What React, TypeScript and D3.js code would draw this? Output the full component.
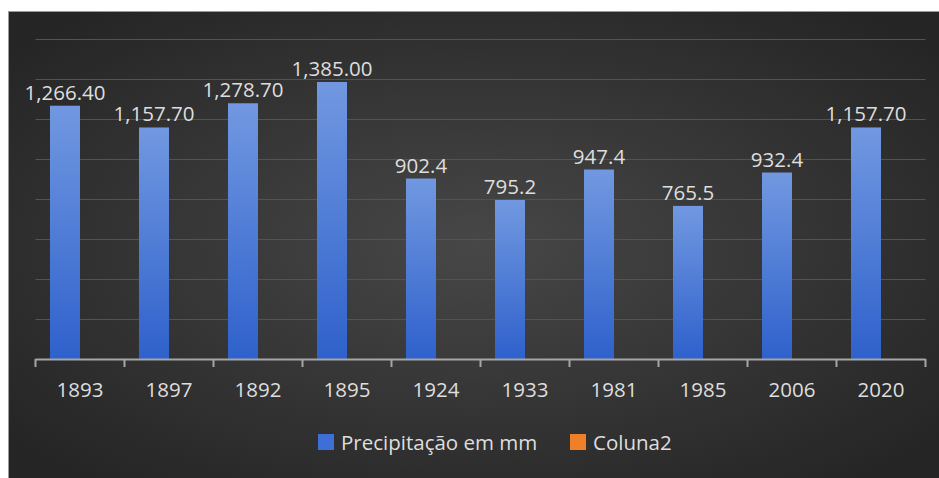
import React from "react";
import * as d3 from "d3";

const categories = ["1893", "1897", "1892", "1895", "1924", "1933", "1981", "1985", "2006", "2020"];
const values = [1266.4, 1157.7, 1278.7, 1385.0, 902.4, 795.2, 947.4, 765.5, 932.4, 1157.7];
const valueLabels = ["1,266.40", "1,157.70", "1,278.70", "1,385.00", "902.4", "795.2", "947.4", "765.5", "932.4", "1,157.70"];
const seriesNames = ["Precipitação em mm", "Coluna2"];
const seriesColors = ["#3d6fd6", "#f07f2a"];
const gridTicks = [0, 200, 400, 600, 800, 1000, 1200, 1400, 1600];

const W = 939;
const H = 478;
const FONT = "'Open Sans', 'Noto Sans', sans-serif";
const TEXT = "#dedede";

export default function App() {
  const x0 = 35.5, x1 = 925.5;
  const yBase = 359, yTop = 39;
  const x = d3.scaleBand<string>().domain(categories).range([x0, x1]).paddingInner(0).paddingOuter(0);
  const inner = d3.scaleBand<string>().domain(seriesNames).range([0, x.bandwidth()]).paddingInner(0).paddingOuter(0.483);
  const y = d3.scaleLinear().domain([0, 1600]).range([yBase, yTop]);

  const bw = inner.bandwidth();
  const ticksX = [...categories.map((c) => x(c)!), x1];

  return (
    <svg width={W} height={H} style={{ position: "absolute", left: 0, top: 0 }}>
      <defs>
        <radialGradient id="bg" cx="50%" cy="50%" r="65%">
          <stop offset="0%" stopColor="#474747" />
          <stop offset="100%" stopColor="#252525" />
        </radialGradient>
        <linearGradient id="bar" x1="0" y1="0" x2="0" y2="1">
          <stop offset="0%" stopColor="#7198e0" />
          <stop offset="100%" stopColor="#2f61cc" />
        </linearGradient>
      </defs>
      <rect x={0} y={0} width={W} height={H} fill="#ffffff" />
      <rect x={8.5} y={11.5} width={W - 8} height={H - 11} fill="url(#bg)" stroke="#9a9a9a" strokeWidth={1} />
      {gridTicks.slice(1).map((t) => (
        <line key={t} x1={x0} x2={x1} y1={Math.round(y(t)) + 0.5} y2={Math.round(y(t)) + 0.5} stroke="#535353" strokeWidth={1.2} />
      ))}
      {categories.map((c, i) => (
        <rect key={c} x={x(c)! + inner(seriesNames[0])!} y={y(values[i])} width={bw} height={yBase - y(values[i])} fill="url(#bar)" />
      ))}
      <line x1={x0} x2={x1} y1={yBase + 0.5} y2={yBase + 0.5} stroke="#a6a6a6" strokeWidth={2} />
      {ticksX.map((tx, i) => (
        <line key={i} x1={tx} x2={tx} y1={yBase} y2={yBase + 8} stroke="#a6a6a6" strokeWidth={2} />
      ))}
      {categories.map((c, i) => (
        <text key={c} x={x(c)! + inner(seriesNames[0])! + bw / 2} y={y(values[i]) - 6} textAnchor="middle" fill={TEXT} fontFamily={FONT} fontSize={20.5}>
          {valueLabels[i]}
        </text>
      ))}
      {categories.map((c) => (
        <text key={c} x={x(c)! + x.bandwidth() / 2} y={397} textAnchor="middle" fill={TEXT} fontFamily={FONT} fontSize={20.5}>
          {c}
        </text>
      ))}
      <g>
        <rect x={318} y={434} width={16} height={16} fill={seriesColors[0]} />
        <text x={341} y={450} fill={TEXT} fontFamily={FONT} fontSize={20.5}>{seriesNames[0]}</text>
        <rect x={570} y={434} width={16} height={16} fill={seriesColors[1]} />
        <text x={593} y={450} fill={TEXT} fontFamily={FONT} fontSize={20.5}>{seriesNames[1]}</text>
      </g>
    </svg>
  );
}
